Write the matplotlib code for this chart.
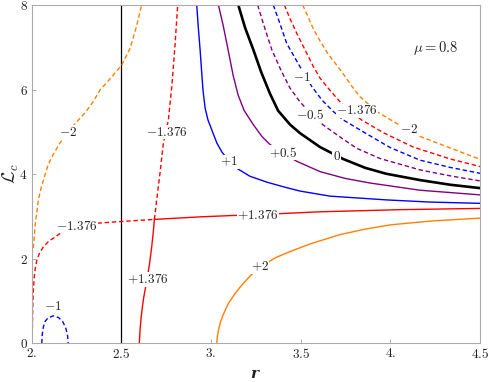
import matplotlib
matplotlib.use("Agg")
import matplotlib.pyplot as plt

plt.rcParams["mathtext.fontset"] = "cm"

ORANGE = "#ff8000"
RED = "#ff0000"
BLUE = "#0000ff"
PURPLE = "#800080"

# level -2 (dashed orange), left branch
m2_left_r = [2.009, 2.015, 2.021, 2.030, 2.037, 2.052, 2.069, 2.091, 2.119, 2.158,
             2.202, 2.247, 2.297, 2.342, 2.381, 2.436, 2.502, 2.549, 2.582, 2.613]
m2_left_L = [2.25, 2.56, 2.87, 3.15, 3.39, 3.67, 3.91, 4.22, 4.46, 4.74,
             5.00, 5.22, 5.45, 5.71, 5.99, 6.25, 6.58, 6.98, 7.46, 8.0]

# level -2 (dashed orange), right branch
m2_right_r = [3.511, 3.541, 3.571, 3.608, 3.653, 3.729, 3.785, 3.831, 3.924, 4.043, 4.166, 4.333, 4.5]
m2_right_L = [8.0, 7.72, 7.43, 7.15, 6.84, 6.42, 6.08, 5.83, 5.48, 5.18, 4.89, 4.62, 4.35]

# level -1.376 (dashed red)
m1376_right_r = [3.409, 3.441, 3.478, 3.524, 3.571, 3.608, 3.654, 3.719, 3.775, 3.840, 3.961, 4.128, 4.333, 4.5]
m1376_right_L = [8.0, 7.67, 7.33, 6.94, 6.54, 6.27, 6.03, 5.71, 5.49, 5.28, 4.98, 4.64, 4.36, 4.18]
m1376_up_r = [2.684, 2.697, 2.716, 2.734, 2.762, 2.782, 2.799, 2.814]
m1376_up_L = [2.93, 3.39, 4.05, 4.73, 5.28, 6.11, 7.05, 8.0]
m1376_left_r = [2.002, 2.004, 2.006, 2.009, 2.014, 2.020, 2.028, 2.041, 2.065, 2.096,
                2.130, 2.158, 2.253, 2.363, 2.498, 2.684]
m1376_left_L = [0.0, 0.43, 0.91, 1.26, 1.57, 1.78, 1.95, 2.11, 2.28, 2.42,
                2.51, 2.60, 2.77, 2.84, 2.88, 2.93]

# level -1 (dashed blue)
m1_right_r = [3.347, 3.385, 3.422, 3.496, 3.562, 3.619, 3.682, 3.738, 3.849, 3.998, 4.166, 4.333, 4.5]
m1_right_L = [8.0, 7.55, 7.09, 6.54, 6.07, 5.75, 5.48, 5.28, 5.00, 4.63, 4.33, 4.16, 4.02]
m1_loop_r = [2.056, 2.059, 2.065, 2.075, 2.091, 2.120, 2.149, 2.172, 2.189, 2.199, 2.204]
m1_loop_L = [0.0, 0.22, 0.39, 0.52, 0.60, 0.65, 0.61, 0.52, 0.37, 0.21, 0.0]

# level -0.5 (dashed purple)
m05_r = [3.260, 3.296, 3.339, 3.394, 3.441, 3.496, 3.552, 3.626, 3.729, 3.813, 3.942, 4.166, 4.333, 4.5]
m05_L = [8.0, 7.50, 6.94, 6.42, 6.03, 5.71, 5.45, 5.16, 4.85, 4.61, 4.37, 4.10, 3.96, 3.84]

# level 0 (thick black)
zero_r = [3.152, 3.190, 3.236, 3.279, 3.329, 3.374, 3.441, 3.496, 3.608, 3.736, 3.859, 3.976, 4.165, 4.333, 4.5]
zero_L = [8.0, 7.46, 6.94, 6.42, 5.90, 5.50, 5.17, 4.97, 4.64, 4.36, 4.15, 4.01, 3.86, 3.75, 3.67]

# level +0.5 (solid purple)
p05_r = [3.041, 3.067, 3.095, 3.123, 3.151, 3.184, 3.234, 3.284, 3.329, 3.402, 3.480, 3.608, 3.747, 3.887, 4.165, 4.5]
p05_L = [8.0, 7.53, 6.94, 6.34, 5.87, 5.51, 5.18, 4.89, 4.70, 4.49, 4.30, 4.06, 3.90, 3.79, 3.62, 3.51]

# level +1 (solid blue)
p1_r = [2.920, 2.930, 2.939, 2.947, 2.955, 2.967, 2.983, 3.011, 3.033, 3.061,
        3.106, 3.151, 3.217, 3.312, 3.413, 3.496, 3.664, 3.982, 4.221, 4.5]
p1_L = [8.0, 7.41, 6.94, 6.46, 5.99, 5.56, 5.28, 4.97, 4.73, 4.52,
        4.28, 4.12, 3.95, 3.81, 3.69, 3.60, 3.48, 3.39, 3.34, 3.31]

# level +1.376 (solid red)
p1376_right_r = [2.684, 2.939, 3.107, 3.301, 3.608, 4.054, 4.5]
p1376_right_L = [2.93, 2.99, 3.02, 3.05, 3.11, 3.16, 3.19]
p1376_low_r = [2.600, 2.604, 2.610, 2.617, 2.624, 2.632, 2.643, 2.657, 2.669, 2.678, 2.684]
p1376_low_L = [0.0, 0.31, 0.60, 0.86, 1.07, 1.26, 1.52, 1.88, 2.28, 2.63, 2.93]

# level +2 (solid orange)
p2_r = [3.032, 3.035, 3.042, 3.053, 3.069, 3.095, 3.128, 3.162, 3.217, 3.273,
        3.357, 3.441, 3.552, 3.719, 3.859, 3.998, 4.221, 4.5]
p2_L = [0.0, 0.15, 0.32, 0.51, 0.69, 0.93, 1.14, 1.33, 1.59, 1.80,
        2.02, 2.17, 2.35, 2.57, 2.70, 2.80, 2.89, 2.96]

# inline labels: text, r, L
label_text = ["$-2$", "$-1.376$", "$+1$", "$+0.5$", "$0$", "$-0.5$", "$-1$",
              "$-1.376$", "$-2$", "$-1.376$", "$+1.376$", "$+1.376$", "$+2$", "$-1$"]
label_r = [2.202, 2.752, 3.102, 3.403, 3.701, 3.552, 3.506,
           3.813, 4.106, 2.25, 3.262, 2.65, 3.273, 2.12]
label_L = [4.99, 4.99, 4.29, 4.51, 4.41, 5.40, 6.29,
           5.50, 5.06, 2.77, 3.03, 1.51, 1.81, 0.88]

fig = plt.figure(figsize=(4.88, 3.82), dpi=100)
ax = fig.add_axes([0.065, 0.1013, 0.9187, 0.8856])

dash = (0, (3.2, 2.0))
lw = 1.0

ax.axvline(2.5, color="black", lw=0.9)

ax.plot(m2_left_r, m2_left_L, color=ORANGE, lw=lw, ls=dash)
ax.plot(m2_right_r, m2_right_L, color=ORANGE, lw=lw, ls=dash)
ax.plot(m1376_right_r, m1376_right_L, color=RED, lw=lw, ls=dash)
ax.plot(m1376_up_r, m1376_up_L, color=RED, lw=lw, ls=dash)
ax.plot(m1376_left_r, m1376_left_L, color=RED, lw=lw, ls=dash)
ax.plot(m1_right_r, m1_right_L, color=BLUE, lw=lw, ls=dash)
ax.plot(m1_loop_r, m1_loop_L, color=BLUE, lw=lw, ls=dash)
ax.plot(m05_r, m05_L, color=PURPLE, lw=lw, ls=dash)
ax.plot(zero_r, zero_L, color="black", lw=1.9)
ax.plot(p05_r, p05_L, color=PURPLE, lw=lw)
ax.plot(p1_r, p1_L, color=BLUE, lw=lw)
ax.plot(p1376_right_r, p1376_right_L, color=RED, lw=lw)
ax.plot(p1376_low_r, p1376_low_L, color=RED, lw=lw)
ax.plot(p2_r, p2_L, color=ORANGE, lw=lw)

for t, x, y in zip(label_text, label_r, label_L):
    ax.text(x, y, t, fontsize=9.5, ha="center", va="center", color="#222222", zorder=5,
            bbox=dict(facecolor="white", edgecolor="none", pad=0.3))

ax.text(4.252, 6.99, r"$\mu = 0.8$", fontsize=10.5, ha="center", va="center", color="#222222")

ax.set_xlim(2, 4.5)
ax.set_ylim(0, 8)
ax.set_xticks([2, 2.5, 3, 3.5, 4, 4.5])
ax.set_xticklabels(["$2.$", "$2.5$", "$3.$", "$3.5$", "$4.$", "$4.5$"])
ax.set_yticks([0, 2, 4, 6, 8])
ax.set_yticklabels(["$0$", "$2$", "$4$", "$6$", "$8$"])
ax.tick_params(direction="in", length=3, width=0.6, color="#999999",
               labelsize=9.5, labelcolor="#222222", pad=3)
for s in ax.spines.values():
    s.set_color("#aaaaaa")
    s.set_linewidth(0.8)

fig.text(0.52, 0.022, "r", fontsize=11, family="DejaVu Serif", style="italic",
         weight="bold", ha="center", va="center", color="#222222")
fig.text(0.022, 0.545, r"$\mathcal{L}_c$", fontsize=13, rotation=90,
         ha="center", va="center", color="#222222")

fig.savefig("out.png", dpi=100)
